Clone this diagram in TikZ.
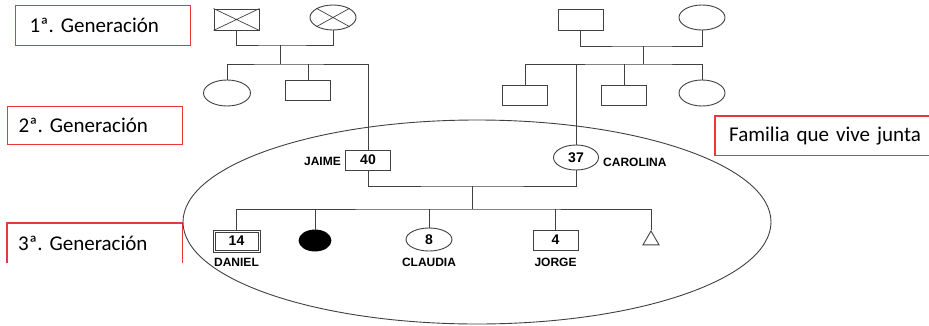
\documentclass[tikz,border=0pt]{standalone}
\usepackage{fontspec}
\setmainfont{Carlito}[WordSpace=0.8]
\newfontfamily\arialf{Liberation Sans}
\usetikzlibrary{shapes.geometric}
\definecolor{redbox}{HTML}{E8383D}
\definecolor{lin}{HTML}{404040}
\frenchspacing
\begin{document}
\begin{tikzpicture}[x=1pt,y=-1pt,
  lnk/.style={draw=lin, line width=0.9pt},
  sq/.style={draw=lin, line width=0.9pt, rectangle, inner sep=0pt, minimum width=45pt, minimum height=20pt, font=\arialf\bfseries\fontsize{14}{14}\selectfont},
  ci/.style={draw=lin, line width=0.9pt, ellipse, inner sep=0pt, minimum width=46pt, minimum height=25pt, font=\arialf\bfseries\fontsize{14}{14}\selectfont},
  nm/.style={font=\arialf\bfseries\fontsize{12}{12}\selectfont, inner sep=0pt},
  gen/.style={draw=redbox, line width=1.2pt, rectangle, anchor=north west, minimum width=175pt, inner sep=0pt, align=left, font=\fontsize{21}{21}\selectfont},
  genopen/.style={rectangle, anchor=north west, minimum width=175pt, inner sep=0pt, align=left, font=\fontsize{21}{21}\selectfont},
  redline/.style={draw=redbox, line width=1.2pt}
]
\useasboundingbox (0,0) rectangle (929,325);

% generation labels
\node[gen, minimum height=40pt, text width=147pt] (gen1) at (15,5) {1ª. Generación};
\node[gen, minimum height=38pt, text width=153pt] (gen2) at (7,106) {2ª. Generación};
\node[genopen, minimum height=40pt, text width=153pt] (gen3) at (7,223) {3ª. Generación};
\draw[redline] (gen3.south west) |- (gen3.north east) -- (gen3.south east);
\node[genopen, minimum width=228pt, minimum height=39pt, text width=200pt] (fam) at (715,116) {Familia que vive junta};
\draw[redline] (fam.north east) -- (fam.north west) -- (fam.south west) -- (fam.south east);

% family ellipse
\node[draw=lin, line width=0.9pt, ellipse, inner sep=0pt, minimum width=588pt, minimum height=204pt] (house) at (477,222) {};

% first generation, left
\node[sq, minimum height=21pt] (gl1) at (236.5,19.5) {};
\draw[lin, line width=0.7pt] (gl1.north west) -- (gl1.south east) (gl1.south west) -- (gl1.north east);
\node[ci] (gl2) at (333,17.5) {};
\draw[lin, line width=0.7pt] (gl2.north west) -- (gl2.south east) (gl2.south west) -- (gl2.north east);
\coordinate (ml) at (280,45);
\coordinate (sl) at (280,64);
\draw[lnk] (gl1.south) |- (ml) -| (gl2.south);
\draw[lnk] (ml) -- (sl);

% second generation, left
\node[ci, minimum width=47pt, minimum height=26pt] (al1) at (227,93) {};
\node[sq] (al2) at (308,90) {};
\node[sq] (jaime) at (368,160) {40};
\node[nm, anchor=east] (jaimel) at (341,161) {JAIME};
\draw[lnk] (al1.north) |- (sl) -| (jaime.north);
\draw[lnk] (al2.north) -- (al2.north |- sl);

% first generation, right
\node[sq, minimum height=21pt] (gr1) at (580.5,19.5) {};
\node[ci] (gr2) at (702,17.5) {};
\coordinate (mr) at (643,46);
\coordinate (sr) at (643,64);
\draw[lnk] (gr1.south) |- (mr) -| (gr2.south);
\draw[lnk] (mr) -- (sr);

% second generation, right
\node[sq] (ar1) at (525,95) {};
\node[sq] (ar2) at (624,95) {};
\node[ci, minimum height=26pt] (ar3) at (702,93) {};
\node[ci, minimum width=45pt] (carolina) at (576,157.5) {37};
\node[nm, anchor=west] (carolinal) at (603,162) {CAROLINA};
\draw[lnk] (ar1.north) |- (sr) -| (ar3.north);
\draw[lnk] (ar2.north) -- (ar2.north |- sr);
\draw[lnk] (carolina.north) -- (carolina.north |- sr);

% couple
\coordinate (mc) at (472,186);
\coordinate (sc) at (472,209);
\draw[lnk] (jaime.south) |- (mc) -| (carolina.south);
\draw[lnk] (mc) -- (sc);

% third generation
\node[sq, minimum width=47pt, minimum height=22pt] (daniel) at (236.5,241) {14};
\draw[lin, line width=0.7pt] ([shift={(2.5pt,2.5pt)}]daniel.south west) rectangle ([shift={(-2.5pt,-2.5pt)}]daniel.north east);
\node[nm] (daniell) at (236.5,262) {DANIEL};
\node[ci, fill=black, draw=black, minimum width=32pt, minimum height=21pt] (hija) at (315,240.5) {};
\node[ci, minimum height=23pt] (claudia) at (429,239.5) {8};
\node[nm] (claudial) at (429,262) {CLAUDIA};
\node[sq] (jorge) at (555.5,240) {4};
\node[nm] (jorgel) at (555.5,262) {JORGE};
\node[draw=lin, line width=0.9pt, regular polygon, regular polygon sides=3, inner sep=0pt, minimum size=18.5pt] (tri) at (651,240.2) {};
\draw[lnk] (daniel.north) |- (sc) -| (tri.corner 1);
\draw[lnk] (hija.north) -- (hija.north |- sc);
\draw[lnk] (claudia.north) -- (claudia.north |- sc);
\draw[lnk] (jorge.north) -- (jorge.north |- sc);
\end{tikzpicture}
\end{document}
